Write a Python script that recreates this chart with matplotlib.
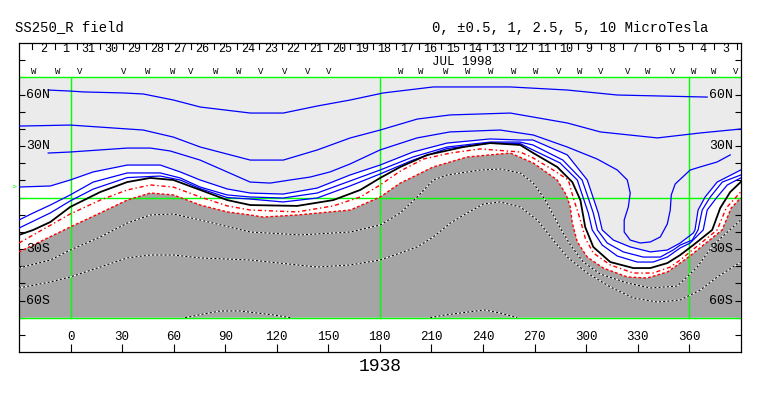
import matplotlib
matplotlib.use('Agg')
import matplotlib.pyplot as plt

# source surface field, CR 1938 -- contour lines (lon, lat)
# neutral line (0)
l0_lon = [-30, -21.7, -11.8, -0.2, 17.3, 33.0, 46.4, 59.8, 75.5, 91.2, 104.6, 131.9, 152.9, 168.6, 180.2, 191.9,
          207.6, 228.5, 244.2, 261.7, 269.3, 283.2, 292.0, 296.7, 299.5, 304.2, 314.1, 327.5, 337.4, 347.3, 354.8,
          362.4, 373.4, 378.1, 383.9, 390]
l0_lat = [-21.8, -18.9, -14.3, -5.5, 3.2, 9.0, 11.4, 10.2, 4.4, -1.5, -4.4, -4.9, -1.5, 4.4, 11.4, 17.8,
          24.8, 29.4, 31.7, 30.6, 25.9, 17.8, 9.0, -1.5, -17.2, -28.8, -37.6, -41.1, -41.1, -38.2, -33.5,
          -27.7, -18.9, -6.1, 3.2, 9.0]

# positive lines, nearest to neutral line first
p1_lon = [-30, -11.8, -0.2, 13.2, 33.0, 52.2, 63.8, 75.4, 91.1, 104.5, 123.7, 143.5, 162.6, 180.1, 199.3, 219.1,
          244.1, 261.5, 269.1, 284.9, 294.9, 298.4, 301.3, 303.6, 309.4, 318.2, 329.8, 339.0, 347.3, 354.8, 360.6,
          368.2, 370.5, 376.3, 382.2, 390]
p1_lat = [-17.8, -9.0, -2.0, 4.9, 11.6, 12.5, 10.2, 5.2, 0.0, -0.9, -2.6, -0.3, 6.7, 13.7, 21.8, 28.5,
          31.7, 31.5, 27.7, 20.1, 10.2, -0.3, -9.0, -18.9, -27.7, -34.1, -37.6, -37.6, -34.7, -29.4, -26.5,
          -18.9, -7.3, 0.3, 7.3, 11.4]
p2_lon = [-30, -21.7, -11.8, -0.2, 13.2, 33.0, 52.2, 63.8, 75.4, 91.1, 104.5, 123.7, 143.5, 162.6, 180.1, 199.3,
          219.1, 244.1, 261.5, 269.1, 286.5, 297.7, 301.3, 304.2, 306.6, 312.3, 321.7, 333.3, 343.2, 350.7, 354.8,
          361.8, 365.2, 367.6, 372.3, 379.3, 390]
p2_lat = [-13.1, -9.0, -4.4, 1.5, 9.0, 14.3, 14.3, 11.4, 6.1, 1.5, 0.3, -0.3, 2.6, 9.6, 16.0, 23.6,
          29.4, 32.3, 32.3, 30.6, 21.8, 10.2, -0.3, -9.0, -18.9, -26.5, -31.7, -34.7, -34.7, -30.6, -27.7,
          -24.8, -18.9, -7.3, 0.3, 9.0, 13.1]
p3_lon = [-30, -11.8, -0.2, 13.2, 33.0, 52.2, 63.8, 75.4, 91.1, 104.5, 123.7, 143.5, 162.6, 180.1, 199.3, 219.1,
          244.1, 261.5, 269.1, 289.1, 300.7, 304.2, 307.1, 309.4, 315.9, 325.7, 337.4, 347.3, 354.8, 362.4, 363.4,
          365.2, 369.3, 376.3, 390]
p3_lat = [6.1, 6.7, 10.2, 14.9, 18.9, 18.9, 14.9, 10.2, 5.0, 2.6, 2.0, 5.5, 13.1, 18.9, 26.5, 31.7,
          34.1, 33.5, 33.5, 24.8, 10.2, -0.3, -9.0, -18.9, -24.8, -28.8, -31.7, -30.6, -26.5, -20.7, -18.9,
          -7.3, 0.3, 9.0, 16.0]
p4_lon = [-13.0, -0.2, 33.0, 46.4, 58.0, 75.4, 91.1, 104.5, 116.1, 127.8, 139.4, 151.0, 162.6, 180.1, 201.6, 220.8,
          250.0, 269.3, 289.1, 306.5, 318.2, 324.0, 325.7, 324.6, 322.2, 322.2, 325.7, 331.5, 337.4, 343.2, 347.3,
          349.0, 349.6, 351.9, 360.6, 366.4, 376.3, 383.9]
p4_lat = [25.9, 26.5, 28.8, 28.8, 27.1, 21.8, 14.9, 9.0, 8.4, 10.2, 11.9, 14.9, 19.5, 27.7, 34.7, 38.2,
          39.3, 36.4, 29.4, 22.4, 16.0, 10.2, 2.6, -5.5, -13.1, -20.1, -24.8, -26.5, -25.9, -23.0, -15.4,
          -7.3, 1.5, 7.9, 16.0, 17.8, 20.7, 24.8]
p5_lon = [-30, -0.2, 42.3, 59.8, 75.5, 104.6, 123.8, 143.6, 162.8, 180.2, 201.8, 221.0, 255.9, 289.1, 308.3, 341.5,
          366.5, 390]
p5_lat = [41.6, 42.2, 39.3, 35.2, 29.4, 21.8, 21.8, 27.7, 34.7, 39.3, 45.7, 48.1, 49.2, 43.4, 38.2, 34.7,
          37.6, 39.9]
p6_lon = [-13.0, -0.2, 7.4, 30.7, 42.3, 59.8, 75.5, 104.6, 123.8, 143.6, 162.8, 182.0, 211.1, 255.9, 289.1, 318.2,
          370.5]
p6_lat = [62.6, 62.0, 61.5, 60.9, 60.3, 56.8, 52.7, 49.2, 49.2, 53.3, 56.8, 60.9, 64.4, 64.4, 62.6, 59.7,
          58.5]

# negative lines (red: -0.5, -1 ; dashed: stronger)
n1_lon = [-30, -0.2, 17.3, 33.0, 46.4, 59.8, 75.5, 91.2, 104.6, 131.9, 152.9, 168.6, 180.2, 191.9, 205.3, 221.0,
          238.4, 261.7, 269.3, 280.9, 289.7, 292.6, 296.7, 299.5, 304.2, 314.1, 327.5, 339.1, 349.0, 354.8, 358.3,
          376.3, 381.6, 390]
n1_lat = [-26.5, -9.6, -1.5, 4.4, 7.3, 6.1, 0.3, -4.9, -7.3, -8.4, -4.9, 0.3, 7.3, 15.4, 22.4, 25.9,
          28.3, 26.5, 23.0, 16.0, 10.2, -0.3, -13.1, -23.6, -32.3, -39.3, -44.0, -44.0, -40.5, -36.4, -33.5,
          -18.9, -6.1, 3.2]
n2_lon = [-30, -0.2, 17.3, 33.0, 46.4, 59.8, 75.5, 91.2, 104.6, 112.1, 131.9, 151.1, 162.8, 180.2, 191.9, 211.1,
          230.9, 255.9, 269.3, 283.2, 288.5, 290.8, 292.0, 294.9, 300.7, 310.0, 324.0, 335.6, 347.3, 354.8, 361.2,
          379.2, 384.5, 390]
n2_lat = [-31.7, -17.2, -9.0, -1.5, 2.6, 1.5, -4.4, -8.4, -10.2, -11.4, -10.2, -8.4, -7.3, 0.3, 8.4, 17.8,
          23.6, 25.9, 20.1, 10.2, 1.5, -5.5, -14.9, -25.9, -34.7, -41.1, -46.3, -46.9, -43.4, -38.2, -33.5,
          -18.9, -6.1, -0.3]
n3_lon = [-30, -11.8, -0.2, 17.3, 33.0, 46.4, 59.8, 75.5, 104.6, 133.7, 162.8, 180.2, 191.9, 201.8, 211.1, 219.2,
          238.4, 250.0, 261.7, 269.3, 276.3, 285.0, 290.9, 298.4, 308.3, 324.0, 337.4, 353.1, 364.7, 374.0, 390]
n3_lat = [-41.1, -36.4, -30.6, -23.0, -14.9, -10.2, -9.6, -13.1, -20.1, -21.8, -20.1, -16.0, -9.0, 0.3, 10.2, 13.1,
          16.0, 16.6, 14.3, 8.4, -1.5, -17.8, -27.7, -37.6, -44.6, -49.8, -52.7, -51.6, -40.5, -27.7, -13.1]
n4_lon = [-30, -11.8, -0.2, 17.3, 33.0, 46.4, 59.8, 75.5, 104.6, 143.6, 162.8, 180.2, 191.9, 201.8, 211.1, 221.0,
          230.9, 240.2, 250.0, 261.7, 271.6, 280.9, 289.1, 300.7, 314.1, 327.5, 341.5, 354.8, 366.5, 376.4, 390]
n4_lat = [-52.7, -49.2, -46.3, -40.5, -35.2, -33.5, -33.5, -35.2, -36.4, -40.5, -39.3, -36.4, -32.3, -28.8, -23.0, -14.9,
          -9.0, -3.8, -2.6, -5.5, -13.1, -24.8, -34.7, -44.0, -52.1, -58.5, -60.9, -59.7, -53.9, -46.3, -37.6]
n5a_lon = [66.7, 77.2, 87.1, 98.8, 108.7, 118.0, 127.9]
n5a_lat = [-70, -67.9, -66.1, -66.1, -67.3, -68.4, -70]
n5b_lon = [209.3, 218.1, 226.8, 240.8, 250.0, 260.0]
n5b_lat = [-70, -68.4, -67.3, -65.5, -67.3, -70]

# top strip: days of CR 1938 (Aug 2 back to Jul 3) and data flags
days = [2, 1, 31, 30, 29, 28, 27, 26, 25, 24, 23, 22, 21, 20, 19, 18, 17, 16, 15, 14, 13, 12, 11, 10, 9, 8, 7, 6, 5, 4, 3]
day0_lon = -15.9
deg_per_day = 13.24
flag_lon = [-21.7, -7.7, 5.1, 30.7, 44.6, 59.2, 69.7, 84.2, 97.6, 110.4, 124.4, 137.7, 150.0,
            191.9, 203.5, 218.1, 230.9, 244.3, 257.7, 270.5, 283.9, 296.1, 308.3, 324.1, 335.7, 350.2,
            362.4, 374.1, 386.9]
flag_txt = ['W', 'W', 'V', 'V', 'W', 'W', 'V', 'W', 'W', 'V', 'V', 'V', 'V',
            'W', 'W', 'W', 'W', 'W', 'W', 'W', 'V', 'W', 'V', 'V', 'W', 'V', 'W', 'W', 'V']

lon_ticks = [0, 30, 60, 90, 120, 150, 180, 210, 240, 270, 300, 330, 360]
lat_marks = [60, 30, -30, -60]
lat_names = ['60N', '30N', '30S', '60S']

mono = 'Liberation Mono'
LIGHT = '#ebebeb'
DARK = '#a5a5a5'
GREEN = '#00ff00'
BLUE = '#0000ff'

fig = plt.figure(figsize=(7.63, 3.96), dpi=100)
ax = fig.add_axes([19 / 763, 44 / 396, 721.7 / 763, 309 / 396])
ax.set_xlim(-30, 390)
ax.set_ylim(-90, 90)
for s in ax.spines.values():
    s.set_linewidth(0.9)
ax.set_xticks(lon_ticks)
ax.set_xticklabels([])
ax.set_yticks(range(-80, 81, 10))
ax.set_yticklabels([])
ax.tick_params(axis='x', direction='in', length=5.5, width=0.8, top=False)
ax.tick_params(axis='y', direction='in', length=4.5, width=0.8, left=True, right=True)

# shading: positive (light), weak (white), negative (dark)
ax.fill([-30, 390, 390, -30], [-70, -70, 70, 70], color=LIGHT, lw=0, zorder=1)
ax.fill(p3_lon + [390, -30], p3_lat + [-70, -70], color='white', lw=0, zorder=1)
ax.fill(n2_lon + [390, -30], n2_lat + [-70, -70], color=DARK, lw=0, zorder=1)

# grid
for x in [0, 180, 360]:
    ax.plot([x, x], [-70, 70], color=GREEN, lw=1.0, zorder=2)
for y in [-70, 0, 70]:
    ax.plot([-30, 390], [y, y], color=GREEN, lw=1.0, zorder=2)

# contours
for lo, la in [(p1_lon, p1_lat), (p2_lon, p2_lat), (p3_lon, p3_lat), (p4_lon, p4_lat),
               (p5_lon, p5_lat), (p6_lon, p6_lat)]:
    ax.plot(lo, la, color=BLUE, lw=0.9, zorder=3, solid_joinstyle='round')
ax.plot(l0_lon, l0_lat, color='black', lw=1.3, zorder=4, solid_joinstyle='round')
ax.plot(n1_lon, n1_lat, color='red', lw=1.0, ls=(0, (3, 2, 1, 2)), zorder=3)
ax.plot(n2_lon, n2_lat, color='red', lw=1.0, ls=(0, (2, 1.5)), zorder=3)
for lo, la in [(n3_lon, n3_lat), (n4_lon, n4_lat), (n5a_lon, n5a_lat), (n5b_lon, n5b_lat)]:
    ax.plot(lo, la, color='white', lw=0.75, zorder=3)
    ax.plot(lo, la, color='black', lw=0.75, ls=(0, (2, 2)), zorder=3)

# latitude labels
for v, t in zip(lat_marks, lat_names):
    ax.text(-25.8, v, t, family=mono, fontsize=9.5, ha='left', va='center', zorder=5)
    ax.text(385.6, v, t, family=mono, fontsize=9.5, ha='right', va='center', zorder=5)
ax.text(-31.5, 6, '>', color=GREEN, family=mono, fontsize=6, ha='right', va='center', clip_on=False)

# longitude labels
for v in lon_ticks:
    ax.text(v, -81.2, str(v), family=mono, fontsize=9, ha='center', va='center')
ax.text(180, -98.2, '1938', family=mono, fontsize=13, ha='center', va='center', clip_on=False)

# day strip
for i, d in enumerate(days):
    x = day0_lon + i * deg_per_day
    ax.text(x, 86.3, str(d), family=mono, fontsize=8.5, ha='center', va='center')
    ax.plot([x - deg_per_day / 2] * 2, [90, 86.5], color='black', lw=0.8)
ax.plot([day0_lon + (len(days) - 0.5) * deg_per_day] * 2, [90, 86.5], color='black', lw=0.8)
ax.text(210.5, 78.9, 'JUL 1998', family=mono, fontsize=9, ha='left', va='center')
for x, t in zip(flag_lon, flag_txt):
    ax.text(x, 73.3, t, family=mono, fontsize=6.5, ha='center', va='center')

fig.text(15 / 763, 1 - 27 / 396, 'SS250_R field', family=mono, fontsize=10, ha='left', va='center')
fig.text(432 / 763, 1 - 28 / 396, '0, \u00b10.5, 1, 2.5, 5, 10 MicroTesla', family=mono, fontsize=10,
         ha='left', va='center')

fig.savefig('out.png', dpi=100)
